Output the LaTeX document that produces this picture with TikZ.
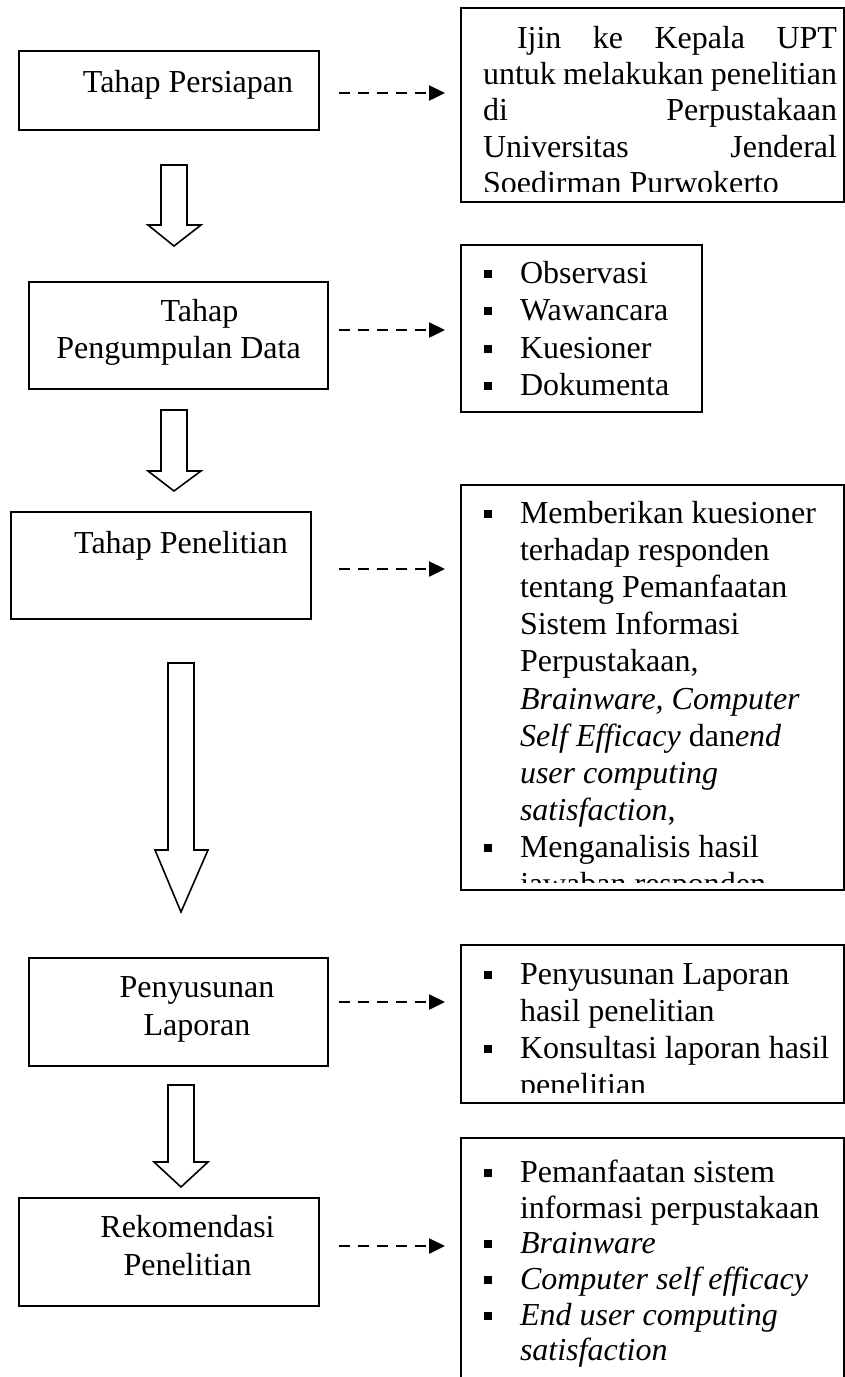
\documentclass[tikz,border=0pt]{standalone}
\usepackage{fontspec}
\setmainfont{Liberation Serif}
\usetikzlibrary{arrows.meta}
\newcommand\bulletat[1]{\fill (484,#1-13) rectangle (492,#1-5);}
\begin{document}
\begin{tikzpicture}[x=0.375pt,y=-0.375pt,
  every node/.style={inner sep=0pt, outer sep=0pt},
  txt/.style={font=\fontsize{12pt}{13.5pt}\selectfont, anchor=base},
  ltxt/.style={font=\fontsize{12pt}{13.5pt}\selectfont, anchor=base west},
  boxline/.style={draw=black, line width=0.8pt},
  blockarrow/.style={draw=black, line width=0.6pt, fill=white, line join=miter},
  dasharrow/.style={draw=black, line width=1pt, dash pattern=on 4.125pt off 3pt, -{Triangle[length=6pt,width=5.6pt]}}
]
\useasboundingbox (0,0) rectangle (845,1377);

% ---------- left boxes ----------
\node[boxline, anchor=north west, minimum width=300*0.375pt, minimum height=79*0.375pt] (L1) at (19,51) {};
\node[txt] (L1t) at (188,92) {Tahap Persiapan};

\node[boxline, anchor=north west, minimum width=299*0.375pt, minimum height=107*0.375pt] (L2) at (29,282) {};
\node[txt] (L2a) at (199.5,321) {Tahap};
\node[txt] (L2b) at (178.5,358) {Pengumpulan Data};

\node[boxline, anchor=north west, minimum width=300*0.375pt, minimum height=107*0.375pt] (L3) at (11,512) {};
\node[txt] (L3t) at (181,553) {Tahap Penelitian};

\node[boxline, anchor=north west, minimum width=299*0.375pt, minimum height=108*0.375pt] (L4) at (29,958) {};
\node[txt] (L4a) at (197,997) {Penyusunan};
\node[txt] (L4b) at (197,1035) {Laporan};

\node[boxline, anchor=north west, minimum width=300*0.375pt, minimum height=108*0.375pt] (L5) at (19,1198) {};
\node[txt] (L5a) at (187.5,1237) {Rekomendasi};
\node[txt] (L5b) at (187.5,1275) {Penelitian};

% ---------- block arrows ----------
\draw[blockarrow] (161,165) -- (187,165) -- (187,225) -- (201,225) -- (174,246) -- (148,225) -- (161,225) -- cycle;
\draw[blockarrow] (161,410) -- (187,410) -- (187,471) -- (201,471) -- (174,491) -- (148,471) -- (161,471) -- cycle;
\draw[blockarrow] (168,663) -- (194,663) -- (194,850) -- (208,850) -- (181,912) -- (155,850) -- (168,850) -- cycle;
\draw[blockarrow] (168,1085) -- (194,1085) -- (194,1162) -- (208,1162) -- (181,1187) -- (154,1162) -- (168,1162) -- cycle;

% ---------- dashed arrows ----------
\coordinate (d1s) at (339,93);   \coordinate (d1e) at (445,93);
\coordinate (d2s) at (339,330);  \coordinate (d2e) at (445,330);
\coordinate (d3s) at (339,569);  \coordinate (d3e) at (445,569);
\coordinate (d4s) at (339,1002); \coordinate (d4e) at (445,1002);
\coordinate (d5s) at (339,1246); \coordinate (d5e) at (445,1246);
\draw[dasharrow] (d1s) -- (d1e);
\draw[dasharrow] (d2s) -- (d2e);
\draw[dasharrow] (d3s) -- (d3e);
\draw[dasharrow] (d4s) -- (d4e);
\draw[dasharrow] (d5s) -- (d5e);

% ---------- right box 1 ----------
\node[boxline, anchor=north west, minimum width=383*0.375pt, minimum height=194*0.375pt] (R1) at (461,8) {};
\begin{scope}
\clip (462,9) rectangle (843,191);
\node[ltxt] (R1a) at (517,48) {\makebox[120pt][s]{Ijin ke Kepala UPT}};
\node[ltxt] (R1b) at (483,84) {\makebox[132.75pt][s]{untuk melakukan penelitian}};
\node[ltxt] (R1c) at (483,120) {\makebox[132.75pt][s]{di Perpustakaan}};
\node[ltxt] (R1d) at (483,157) {\makebox[132.75pt][s]{Universitas Jenderal}};
\node[ltxt] (R1e) at (483,193) {Soedirman Purwokerto};
\end{scope}

% ---------- right box 2 ----------
\node[boxline, anchor=north west, minimum width=241*0.375pt, minimum height=167*0.375pt] (R2) at (461,245) {};
\bulletat{283}\node[ltxt] (R2a) at (520,283) {Observasi};
\bulletat{320}\node[ltxt] (R2b) at (520,320) {Wawancara};
\bulletat{358}\node[ltxt] (R2c) at (520,358) {Kuesioner};
\bulletat{395}\node[ltxt] (R2d) at (520,395) {Dokumenta};

% ---------- right box 3 ----------
\node[boxline, anchor=north west, minimum width=383*0.375pt, minimum height=405*0.375pt] (R3) at (461,485) {};
\begin{scope}
\clip (462,486) rectangle (843,882);
\bulletat{523}\node[ltxt] (R3a) at (520,523) {Memberikan kuesioner};
\node[ltxt] (R3b) at (520,560) {terhadap responden};
\node[ltxt] (R3c) at (520,597) {tentang Pemanfaatan};
\node[ltxt] (R3d) at (520,634) {Sistem Informasi};
\node[ltxt] (R3e) at (520,671) {Perpustakaan,};
\node[ltxt] (R3f) at (520,709) {\textit{Brainware, Computer}};
\node[ltxt] (R3g) at (520,746) {\textit{Self Efficacy} dan\textit{end}};
\node[ltxt] (R3h) at (520,783) {\textit{user computing}};
\node[ltxt] (R3i) at (520,820) {\textit{satisfaction},};
\bulletat{857}\node[ltxt] (R3j) at (520,857) {Menganalisis hasil};
\node[ltxt] (R3k) at (520,894) {jawaban responden};
\end{scope}

% ---------- right box 4 ----------
\node[boxline, anchor=north west, minimum width=383*0.375pt, minimum height=158*0.375pt] (R4) at (461,945) {};
\begin{scope}
\clip (462,946) rectangle (843,1092);
\bulletat{984}\node[ltxt] (R4a) at (520,984) {Penyusunan Laporan};
\node[ltxt] (R4b) at (520,1021) {hasil penelitian};
\bulletat{1058}\node[ltxt] (R4c) at (520,1058) {Konsultasi laporan hasil};
\node[ltxt] (R4d) at (520,1095) {penelitian};
\end{scope}

% ---------- right box 5 (open at the bottom) ----------
\coordinate (R5nw) at (461,1138);
\coordinate (R5ne) at (844,1138);
\coordinate (R5sw) at (461,1380);
\coordinate (R5se) at (844,1380);
\draw[boxline] (R5sw) -- (R5nw) -- (R5ne) -- (R5se);
\bulletat{1182}\node[ltxt] (R5a) at (520,1182) {Pemanfaatan sistem};
\node[ltxt] (R5b) at (520,1218) {informasi perpustakaan};
\bulletat{1253}\node[ltxt] (R5c) at (520,1253) {\textit{Brainware}};
\bulletat{1289}\node[ltxt] (R5d) at (520,1289) {\textit{Computer self efficacy}};
\bulletat{1325}\node[ltxt] (R5e) at (520,1325) {\textit{End user computing}};
\node[ltxt] (R5f) at (520,1360) {\textit{satisfaction}};
\end{tikzpicture}
\end{document}
